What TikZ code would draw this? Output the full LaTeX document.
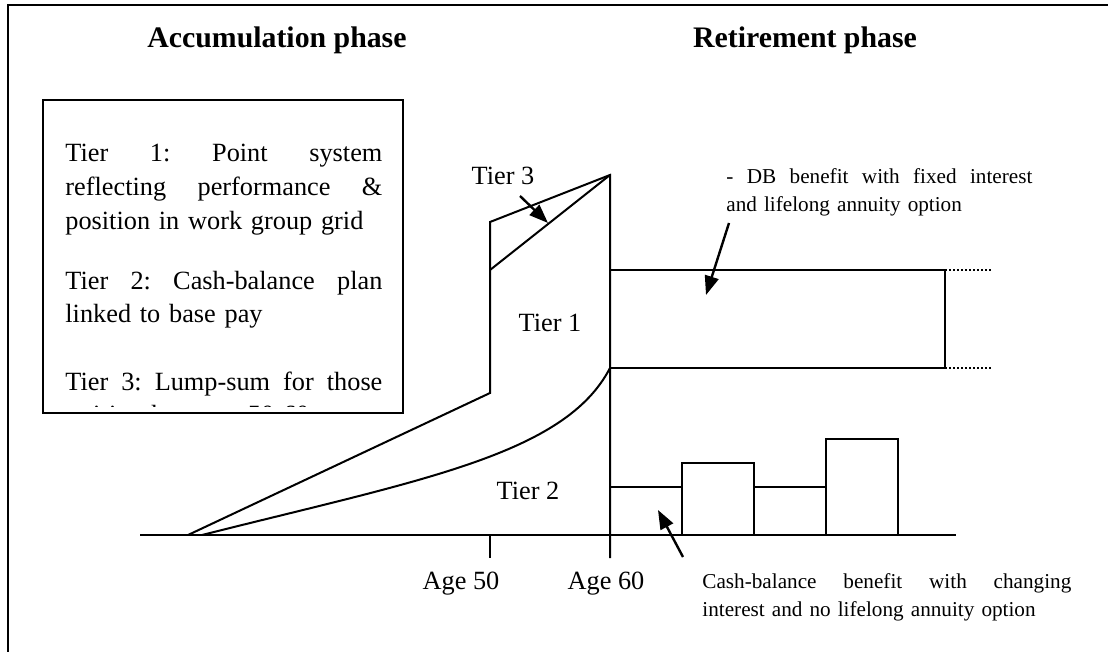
\documentclass[tikz,border=0pt]{standalone}
\usepackage{fontspec}
\setmainfont{Liberation Serif}
\usetikzlibrary{arrows.meta}

\tikzset{
  frameline/.style={line width=1.2pt},
  plotline/.style={line width=1pt},
  dotline/.style={line width=1.1pt, dash pattern=on 1pt off 1pt},
  pointer/.style={line width=1.2pt, -{Triangle[length=9.5pt,width=7pt]}},
  phase/.style={font=\fontsize{14.9}{18}\selectfont\bfseries, inner sep=0pt, anchor=base},
  lbl/.style={font=\fontsize{13.15}{16.85}\selectfont, inner sep=0pt, anchor=base},
  boxtext/.style={font=\fontsize{13.15}{16.85}\selectfont, inner sep=0pt, anchor=base west,
                  text width=158.5pt, align=left},
  note/.style={font=\fontsize{10.6}{14}\selectfont, inner sep=0pt, anchor=base west, align=left}
}
\newcommand{\spreadline}[1]{\leavevmode\hbox to \hsize{%
  \spaceskip=0.25em plus 1fil\relax\xspaceskip=\spaceskip #1}}

\begin{document}
\begin{tikzpicture}[x=0.5pt,y=-0.5pt]
\useasboundingbox (0,0) rectangle (1108,652);

% Drawing frame
\draw[frameline] (8,652) -- (8,5) -- (1108,5);

% Drawing phase titles
\node[phase] (accum) at (277,48) {Accumulation phase};
\node[phase] (retire) at (805,48) {Retirement phase};

% Drawing tier box
\coordinate (boxnw) at (43,100);
\coordinate (boxse) at (403,413);
\begin{scope}
  \clip (boxnw) rectangle (403,406);
  \node[boxtext] (tiers) at (65,162) {%
    \spreadline{Tier 1: Point system}\\
    \spreadline{reflecting performance \&}\\
    position in work group grid\\[13pt]
    \spreadline{Tier 2: Cash-balance plan}\\
    linked to base pay\\[16.85pt]
    \spreadline{Tier 3: Lump-sum for those}\\
    retiring between 50-60};
\end{scope}
\draw[plotline] (boxnw) rectangle (boxse);

% Drawing age axis
\coordinate (axisl) at (140,535);
\coordinate (axisr) at (956,535);
\coordinate (fifty) at (490,535);
\coordinate (fiftytick) at (490,558);
\coordinate (sixtytick) at (610,558);
\draw[plotline] (axisl) -- (axisr);
\draw[plotline] (fifty) -- (fiftytick);
\node[lbl] (agefifty) at (461,589) {Age 50};
\node[lbl] (agesixty) at (606,589) {Age 60};

% Drawing accumulation phase
\coordinate (startout) at (188,535);
\coordinate (startin) at (202,535);
\coordinate (jump) at (490,393);
\coordinate (jumptop) at (490,222);
\coordinate (tierthree) at (490,270);
\coordinate (apex) at (610,175);
\coordinate (tieronetop) at (610,270);
\coordinate (tieronebot) at (610,368);
\draw[plotline] (startout) -- (jump) -- (jumptop) -- (apex) -- (sixtytick);
\draw[plotline] (tierthree) -- (apex);
\draw[plotline] (startin) .. controls (420,480) and (565,455) .. (tieronebot);

% Drawing tier 1 benefit
\coordinate (dbtop) at (945,270);
\coordinate (dbbot) at (945,368);
\draw[plotline] (tieronetop) -- (dbtop) -- (dbbot) -- (tieronebot);
\draw[dotline] (dbtop) -- ++(47,0);
\draw[dotline] (dbbot) -- ++(47,0);

% Drawing tier 2 benefit bars
\foreach \xl/\xr/\yt in {610/682/487, 682/754/463, 754/826/487, 826/898/439}
  \draw[plotline] (\xl,535) rectangle (\xr,\yt);

% Marking tiers
\node[lbl] (tonelbl) at (550,331) {Tier 1};
\node[lbl] (ttwolbl) at (528,499) {Tier 2};
\node[lbl] (tthreelbl) at (503,185) {Tier 3};

% Drawing notes
\node[note, text width=153pt] (dbnote) at (726,184) {%
  \spreadline{- DB benefit with fixed interest}\\
  and lifelong annuity option};
\node[note, text width=184.5pt] (cbnote) at (702,588) {%
  \spreadline{Cash-balance benefit with changing}\\
  interest and no lifelong annuity option};

% Drawing pointers
\coordinate (tthreetail) at (520,196);
\coordinate (tthreehead) at (548,223);
\coordinate (dbtail) at (729,223);
\coordinate (dbhead) at (706,295);
\coordinate (cbtail) at (683,557);
\coordinate (cbhead) at (658,510);
\draw[pointer] (tthreetail) -- (tthreehead);
\draw[pointer] (dbtail) -- (dbhead);
\draw[pointer] (cbtail) -- (cbhead);
\end{tikzpicture}
\end{document}
